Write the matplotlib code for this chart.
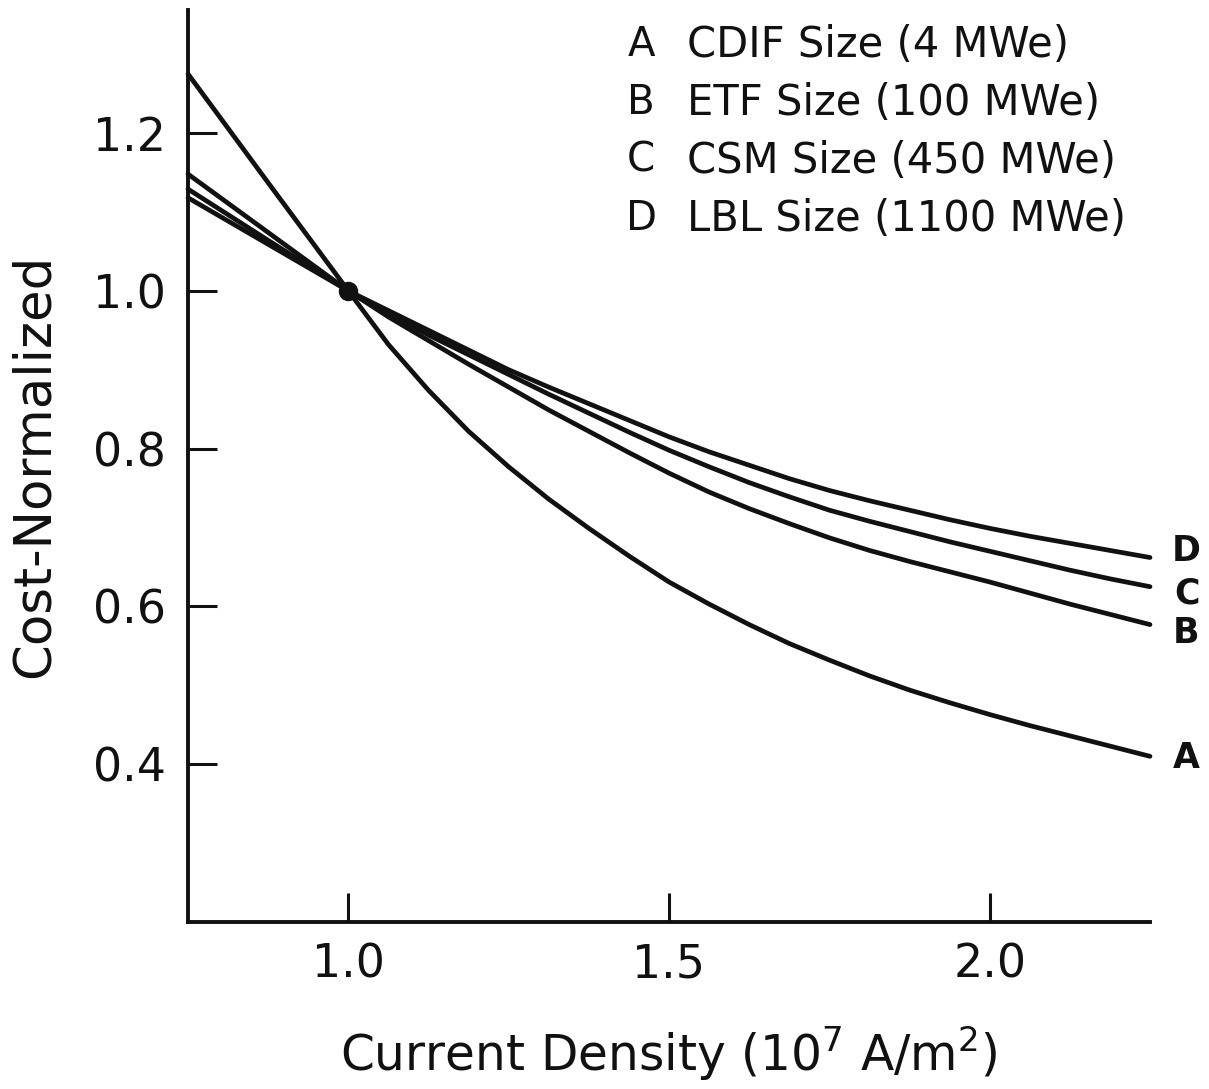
import matplotlib
matplotlib.use("Agg")
import matplotlib.pyplot as plt

# ---- data ----
x_vals = [0.75, 0.875, 1.0, 1.0625, 1.125, 1.1875, 1.25, 1.3125, 1.375, 1.4375, 1.5,
          1.5625, 1.625, 1.6875, 1.75, 1.8125, 1.875, 1.9375, 2.0, 2.0625, 2.125, 2.1875, 2.25]
cost_A = [1.275, 1.137, 1.0, 0.932, 0.874, 0.822, 0.777, 0.736, 0.699, 0.664, 0.631,
          0.603, 0.577, 0.553, 0.532, 0.512, 0.494, 0.478, 0.463, 0.449, 0.436, 0.423, 0.410]
cost_B = [1.148, 1.074, 1.0, 0.967, 0.937, 0.907, 0.878, 0.849, 0.822, 0.795, 0.769,
          0.745, 0.724, 0.705, 0.687, 0.671, 0.657, 0.644, 0.631, 0.617, 0.603, 0.590, 0.577]
cost_C = [1.129, 1.064, 1.0, 0.971, 0.944, 0.919, 0.894, 0.869, 0.845, 0.821, 0.798,
          0.777, 0.757, 0.739, 0.722, 0.708, 0.695, 0.682, 0.670, 0.658, 0.646, 0.635, 0.625]
cost_D = [1.118, 1.059, 1.0, 0.975, 0.950, 0.925, 0.900, 0.878, 0.857, 0.836, 0.815,
          0.796, 0.779, 0.762, 0.747, 0.734, 0.722, 0.710, 0.699, 0.689, 0.680, 0.671, 0.662]
series_letters = ["A", "B", "C", "D"]
series_names = ["CDIF Size (4 MWe)", "ETF Size (100 MWe)", "CSM Size (450 MWe)", "LBL Size (1100 MWe)"]
end_label_y = {"D": 0.670, "C": 0.617, "B": 0.566, "A": 0.408}
x_ticks = [1.0, 1.5, 2.0]
x_tick_labels = ["1.0", "1.5", "2.0"]
y_ticks = [0.4, 0.6, 0.8, 1.0, 1.2]
y_tick_labels = ["0.4", "0.6", "0.8", "1.0", "1.2"]
ref_point = (1.0, 1.0)

ink = "#111111"
W, H = 1209, 1089
fig = plt.figure(figsize=(W / 100, H / 100), dpi=100)
ax = fig.add_axes([188 / W, 1 - 922 / H, (1150 - 188) / W, (922 - 10) / H])

for ys in (cost_A, cost_B, cost_C, cost_D):
    ax.plot(x_vals, ys, color=ink, lw=3.4, solid_capstyle="round", solid_joinstyle="round", clip_on=False)
ax.plot([ref_point[0]], [ref_point[1]], "o", color=ink, ms=13, clip_on=False)

ax.set_xlim(0.75, 2.25)
ax.set_ylim(0.2, 1.356)
for s in ("top", "right"):
    ax.spines[s].set_visible(False)
for s in ("left", "bottom"):
    ax.spines[s].set_linewidth(2.8)
    ax.spines[s].set_color(ink)

ax.set_xticks(x_ticks)
ax.set_xticklabels(x_tick_labels)
ax.set_yticks(y_ticks)
ax.set_yticklabels(y_tick_labels)
ax.tick_params(direction="in", length=21, width=2.2, color=ink, labelsize=33, labelcolor=ink)
ax.tick_params(axis="x", pad=15)
ax.tick_params(axis="y", pad=16)

ax.set_xlabel("Current Density (10$^7$ A/m$^2$)", fontsize=35, color=ink, labelpad=26)
ax.set_ylabel("Cost-Normalized", fontsize=37, color=ink, labelpad=24)

# legend block
legend_top = 45
for i, (let, name) in enumerate(zip(series_letters, series_names)):
    yp = 1 - (legend_top + 58 * i) / H
    fig.text(641 / W, yp, let, fontsize=29, color=ink, ha="center", va="center")
    fig.text(687 / W, yp, name, fontsize=30, color=ink, ha="left", va="center")

# curve-end labels
for let, yv in end_label_y.items():
    ax.text(2.307, yv, let, fontsize=25, fontweight="bold", color=ink, ha="center", va="center", clip_on=False)

fig.savefig("out.png", dpi=100, facecolor="white")
